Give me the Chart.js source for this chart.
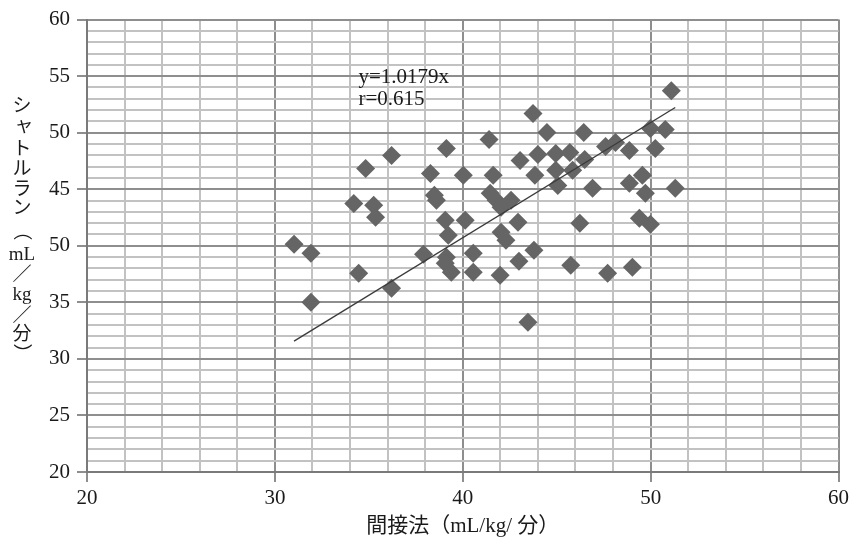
<!DOCTYPE html>
<html>
<head>
<meta charset="utf-8">
<script src="https://cdn.jsdelivr.net/npm/chart.js@4.4.1/dist/chart.umd.min.js"></script>
<style>
  html, body { margin: 0; padding: 0; background: #ffffff; }
  canvas { display: block; }
</style>
</head>
<body>
<canvas id="chart" width="853" height="543"></canvas>
<script>
// Indirect method VO2 (x) vs. shuttle-run VO2 (y), mL/kg/min
const indirectVO2 = [
  31.02, 31.92, 31.92, 34.20, 34.83, 35.26, 35.36, 34.46, 36.21, 36.21,
  37.91, 38.28, 38.49, 38.60, 39.13, 39.07, 39.23, 39.13, 39.07, 39.39,
  40.03, 40.13, 40.56, 40.56, 41.40, 41.62, 41.46, 41.78, 42.57, 42.04,
  42.94, 42.04, 42.30, 42.99, 41.99, 43.79, 43.47, 43.74, 44.48, 43.05,
  44.00, 44.95, 45.70, 43.84, 44.95, 45.06, 45.85, 46.49, 46.44, 45.75,
  46.23, 46.91, 47.60, 48.13, 47.71, 48.87, 48.87, 49.40, 49.56, 49.72,
  49.99, 49.03, 49.99, 50.25, 50.78, 51.10, 51.31
];
const shuttleRunVO2 = [
  40.13, 39.34, 35.01, 43.75, 46.84, 43.58, 42.52, 37.57, 47.99, 36.25,
  39.25, 46.40, 44.46, 44.02, 48.61, 42.25, 40.93, 38.98, 38.45, 37.66,
  46.23, 42.25, 39.34, 37.66, 49.40, 46.23, 44.64, 44.02, 44.02, 43.40,
  42.08, 41.19, 40.50, 38.63, 37.40, 39.60, 33.25, 51.70, 50.02, 47.55,
  48.08, 48.17, 48.26, 46.23, 46.67, 45.34, 46.67, 47.64, 50.02, 38.28,
  41.99, 45.08, 48.79, 49.14, 37.57, 48.43, 45.52, 42.43, 46.23, 44.64,
  41.90, 38.10, 50.38, 48.61, 50.29, 53.72, 45.08
];

// Regression through the origin and correlation coefficient
const slope = 1.0179;
const rValue = 0.615;

const xTickValues = [20, 30, 40, 50, 60];
const xTickLabels = ['20', '30', '40', '50', '60'];
const yTickValues = [20, 25, 30, 35, 40, 45, 50, 55, 60];
const yTickLabels = ['20', '25', '30', '35', '50', '45', '50', '55', '60'];

const xTitle = '間接法（mL/kg/ 分）';
const yTitleParts = ['シ', 'ャ', 'ト', 'ル', 'ラ', 'ン', '（', 'mL', '／', 'kg', '／', '分', '）'];
const equationText = 'y=' + slope.toFixed(4) + 'x';
const correlationText = 'r=' + rValue.toFixed(3);

const points = indirectVO2.map((x, i) => ({ x: x, y: shuttleRunVO2[i] }));
const xMin = Math.min(...indirectVO2);
const xMax = Math.max(...indirectVO2);
const fitLine = [
  { x: xMin, y: slope * xMin },
  { x: xMax, y: slope * xMax }
];

const SERIF = "'Liberation Serif', 'Times New Roman', serif";
const MIXED = "'Liberation Serif', 'Noto Sans CJK JP', serif";
const MAJOR_GRID = '#8e8e8e';
const MINOR_GRID = '#c2c2c2';

function isMultiple(v, m) {
  return Math.abs(v / m - Math.round(v / m)) < 1e-6;
}

// Vertical (tategaki) y-axis title and the regression annotation
const extraText = {
  id: 'extraText',
  afterDatasetsDraw(chart) {
    const ctx = chart.ctx;
    const xs = chart.scales.x;
    ctx.save();
    ctx.fillStyle = '#1a1a1a';
    ctx.textBaseline = 'middle';
    ctx.textAlign = 'left';
    ctx.font = '21px ' + SERIF;
    const ex = xs.getPixelForValue(34.45);
    ctx.fillText(equationText, ex, 77);
    ctx.fillText(correlationText, ex, 99);

    // title glyph centres, top to bottom
    const centres = [105, 127, 148, 168, 188, 207, 231, 255, 274, 295, 315, 333, 353];
    const cx = 22;
    yTitleParts.forEach((part, i) => {
      const y = centres[i];
      ctx.textAlign = 'center';
      if (/^[A-Za-z]+$/.test(part)) {
        ctx.font = '19px ' + SERIF;
        ctx.fillText(part, cx, y);
      } else if (part === '（' || part === '）') {
        // brackets turn a quarter clockwise in vertical writing
        ctx.font = '19px "Noto Sans CJK JP"';
        ctx.save();
        ctx.translate(cx, y);
        ctx.rotate(Math.PI / 2);
        ctx.fillText(part, 0, 0);
        ctx.restore();
      } else {
        ctx.font = '19px "Noto Sans CJK JP"';
        const dx = part === 'ャ' ? 2 : 0;
        const dy = part === 'ャ' ? -2 : 0;
        ctx.fillText(part, cx + dx, y + dy);
      }
    });
    ctx.restore();
  }
};

new Chart(document.getElementById('chart'), {
  type: 'scatter',
  data: {
    datasets: [
      {
        type: 'line',
        data: fitLine,
        borderColor: '#3c3c3c',
        borderWidth: 1.4,
        pointRadius: 0,
        fill: false,
        order: 0
      },
      {
        data: points,
        pointStyle: 'rectRot',
        pointRadius: 9.5,
        pointHoverRadius: 9.5,
        backgroundColor: '#656565',
        borderColor: '#656565',
        borderWidth: 0,
        order: 1
      }
    ]
  },
  options: {
    responsive: false,
    animation: false,
    devicePixelRatio: 1,
    layout: { padding: { top: 19, right: 11, bottom: 0, left: 0 } },
    plugins: {
      legend: { display: false },
      tooltip: { enabled: false }
    },
    scales: {
      x: {
        type: 'linear',
        min: 20,
        max: 60,
        afterFit(scale) { scale.height = 71; },
        ticks: {
          stepSize: 2,
          autoSkip: false,
          maxRotation: 0,
          padding: 4,
          color: '#1a1a1a',
          font: { family: SERIF, size: 21 },
          callback(v) {
            const k = xTickValues.indexOf(v);
            return k >= 0 ? xTickLabels[k] : '';
          }
        },
        grid: {
          color: (c) => isMultiple(c.tick.value, 10) ? MAJOR_GRID : MINOR_GRID,
          lineWidth: 2,
          drawTicks: true,
          tickLength: 10,
          tickWidth: 2,
          tickColor: (c) => isMultiple(c.tick.value, 10) ? MAJOR_GRID : 'rgba(0,0,0,0)'
        },
        border: { display: true, color: '#7a7a7a', width: 2 },
        title: {
          display: true,
          text: xTitle,
          color: '#1a1a1a',
          font: { family: MIXED, size: 21 },
          padding: { top: 2, bottom: 4 }
        }
      },
      y: {
        type: 'linear',
        min: 20,
        max: 60,
        afterFit(scale) { scale.width = 87; },
        ticks: {
          stepSize: 1,
          autoSkip: false,
          padding: 7,
          color: '#1a1a1a',
          font: { family: SERIF, size: 21 },
          callback(v) {
            const k = yTickValues.indexOf(v);
            return k >= 0 ? yTickLabels[k] : '';
          }
        },
        grid: {
          color: (c) => isMultiple(c.tick.value, 5) ? MAJOR_GRID : MINOR_GRID,
          lineWidth: 2,
          drawTicks: true,
          tickLength: 10,
          tickWidth: 2,
          tickColor: (c) => isMultiple(c.tick.value, 5) ? MAJOR_GRID : 'rgba(0,0,0,0)'
        },
        border: { display: true, color: '#7a7a7a', width: 2 }
      }
    }
  },
  plugins: [extraText]
});
</script>
</body>
</html>
